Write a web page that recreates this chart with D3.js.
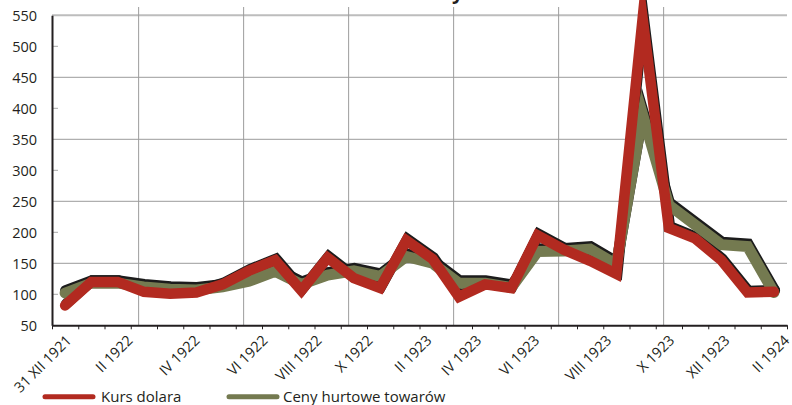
<!DOCTYPE html>
<html lang="pl">
<head>
<meta charset="utf-8">
<script src="https://cdn.jsdelivr.net/npm/d3@7/dist/d3.min.js"></script>
<style>
  html, body { margin: 0; padding: 0; background: #fff; }
  svg { display: block; font-family: "Open Sans", "Noto Sans", sans-serif; }
</style>
</head>
<body>
<script>
// Monthly readings, previous period = 100
const kursDolara = [82, 120, 120, 104, 101, 103, 116, 138, 155, 106, 159, 126, 110, 187,
                    157, 96, 116, 110, 195, 172, 154, 133, 545, 207, 190, 155, 103, 104];
const cenyHurtowe = [102, 118, 118, 112, 108, 107, 112, 121, 137, 116, 131, 138, 129, 161,
                     150, 118, 118, 111, 169, 170, 173, 148, 390, 244, 212, 180, 177, 103];

// Period labels and where they sit along the period axis (in period units)
const tickLabels = ["31 XII 1921", "II 1922", "IV 1922", "VI 1922", "VIII 1922", "X 1922",
                    "II 1923", "IV 1923", "VI 1923", "VIII 1923", "X 1923", "XII 1923", "II 1924"];
const tickAt = [0.26, 2.59, 5.14, 7.73, 9.79, 11.73, 13.98, 15.88, 18.09, 20.83, 23.23, 25.33, 27.61];
const gridAt = [2.8, 6.8, 10.8, 14.8, 18.8, 22.8];

const yLabels = d3.range(50, 551, 50);
const yGrid = [150, 250, 350, 450, 550];
const yMinor = [100, 200, 300, 400, 500];

const seriesNames = ["Kurs dolara", "Ceny hurtowe towarów"];
const title = "Kurs dolara i ceny hurtowe w Polsce";

const W = 792, H = 405;
const RED = "#b22a20", OLIVE = "#747a50", SHADOW = "#1c1c1c", INK = "#231f20";

const svg = d3.select("body").append("svg").attr("width", W).attr("height", H);

const n = kursDolara.length;
const x = d3.scaleLinear().domain([-0.5, n - 0.5]).range([52, 787]);
const y = d3.scaleLinear().domain([50, 550]).range([325.3, 15.3]);

// Title (sits above the frame)
svg.append("text")
  .attr("x", 465).attr("y", -1)
  .attr("text-anchor", "middle")
  .attr("font-weight", "bold").attr("font-size", 20)
  .attr("fill", INK).text(title);

// Gridlines
const grid = svg.append("g");
grid.selectAll("line.h").data(yGrid).join("line")
  .attr("class", "h")
  .attr("x1", x(-0.5)).attr("x2", x(n - 0.5))
  .attr("y1", d => y(d)).attr("y2", d => y(d))
  .attr("stroke", d => d === 550 ? "#bdbdbd" : "#9c9c9c")
  .attr("stroke-width", d => d === 550 ? 2 : 1);
grid.selectAll("line.v").data(gridAt).join("line")
  .attr("class", "v")
  .attr("x1", d => x(d)).attr("x2", d => x(d))
  .attr("y1", 7).attr("y2", y(50))
  .attr("stroke", "#9c9c9c").attr("stroke-width", 1);

// Minor inward ticks on the value axis
grid.selectAll("line.m").data(yMinor).join("line")
  .attr("class", "m")
  .attr("x1", x(-0.5)).attr("x2", x(-0.5) + 6)
  .attr("y1", d => y(d)).attr("y2", d => y(d))
  .attr("stroke", "#a8a8a8").attr("stroke-width", 1);

// Value axis
const yAxis = svg.append("g")
  .attr("transform", `translate(${x(-0.5)},0)`)
  .call(d3.axisLeft(y).tickValues(yLabels).tickSize(0).tickSizeOuter(0).tickPadding(15));
yAxis.select(".domain").attr("stroke", INK).attr("stroke-width", 2);
yAxis.selectAll("text")
  .attr("font-size", 14.5).attr("fill", INK).attr("font-family", "Open Sans, sans-serif")
  .attr("dy", "0.36em");

// Period axis: ticks at every period boundary
const xAxis = svg.append("g")
  .attr("transform", `translate(0,${y(50)})`)
  .call(d3.axisBottom(x).tickValues(d3.range(-0.5, n, 1)).tickSize(4).tickSizeOuter(0).tickFormat(""));
xAxis.select(".domain").attr("stroke", INK).attr("stroke-width", 2);
xAxis.selectAll(".tick line").attr("stroke", INK).attr("stroke-width", 1);

// Rotated period labels
const xLab = svg.append("g")
  .attr("transform", `translate(0,${y(50)})`)
  .call(d3.axisBottom(x).tickValues(tickAt).tickSize(0).tickFormat((d, i) => tickLabels[i]));
xLab.select(".domain").remove();
xLab.selectAll("text")
  .attr("x", 0).attr("y", 0).attr("dy", 0)
  .attr("text-anchor", "end")
  .attr("transform", "translate(0,16) rotate(-45)")
  .attr("font-size", 14.5).attr("fill", INK).attr("font-family", "Open Sans, sans-serif");

// Series lines
const line = d3.line().x((d, i) => x(i)).y(d => y(d));
const plot = svg.append("g");

function drawShadow(values, w, dx, dy) {
  plot.append("path").datum(values)
    .attr("d", line)
    .attr("transform", `translate(${dx},${dy})`)
    .attr("fill", "none").attr("stroke", SHADOW).attr("stroke-width", w)
    .attr("stroke-linejoin", "miter").attr("stroke-miterlimit", 40)
    .attr("stroke-linecap", "round");
}
function drawLine(values, color, w) {
  plot.append("path").datum(values)
    .attr("d", line)
    .attr("fill", "none").attr("stroke", color).attr("stroke-width", w)
    .attr("stroke-linejoin", "miter").attr("stroke-miterlimit", 40)
    .attr("stroke-linecap", "round");
}

drawShadow(cenyHurtowe, 11, 0.5, -2.5);
drawShadow(kursDolara, 10.5, 1, -1.5);
drawLine(cenyHurtowe, OLIVE, 11);
drawLine(kursDolara, RED, 10.5);

// Legend
const legend = svg.append("g");
const items = [
  { name: seriesNames[0], color: RED, x0: 45, x1: 93, tx: 101 },
  { name: seriesNames[1], color: OLIVE, x0: 229, x1: 277, tx: 283 }
];
items.forEach(it => {
  legend.append("line")
    .attr("x1", it.x0).attr("x2", it.x1).attr("y1", 396.7).attr("y2", 396.7)
    .attr("stroke", it.color).attr("stroke-width", 5).attr("stroke-linecap", "round");
  legend.append("text")
    .attr("x", it.tx).attr("y", 402)
    .attr("font-size", 15).attr("fill", INK)
    .text(it.name);
});
</script>
</body>
</html>
